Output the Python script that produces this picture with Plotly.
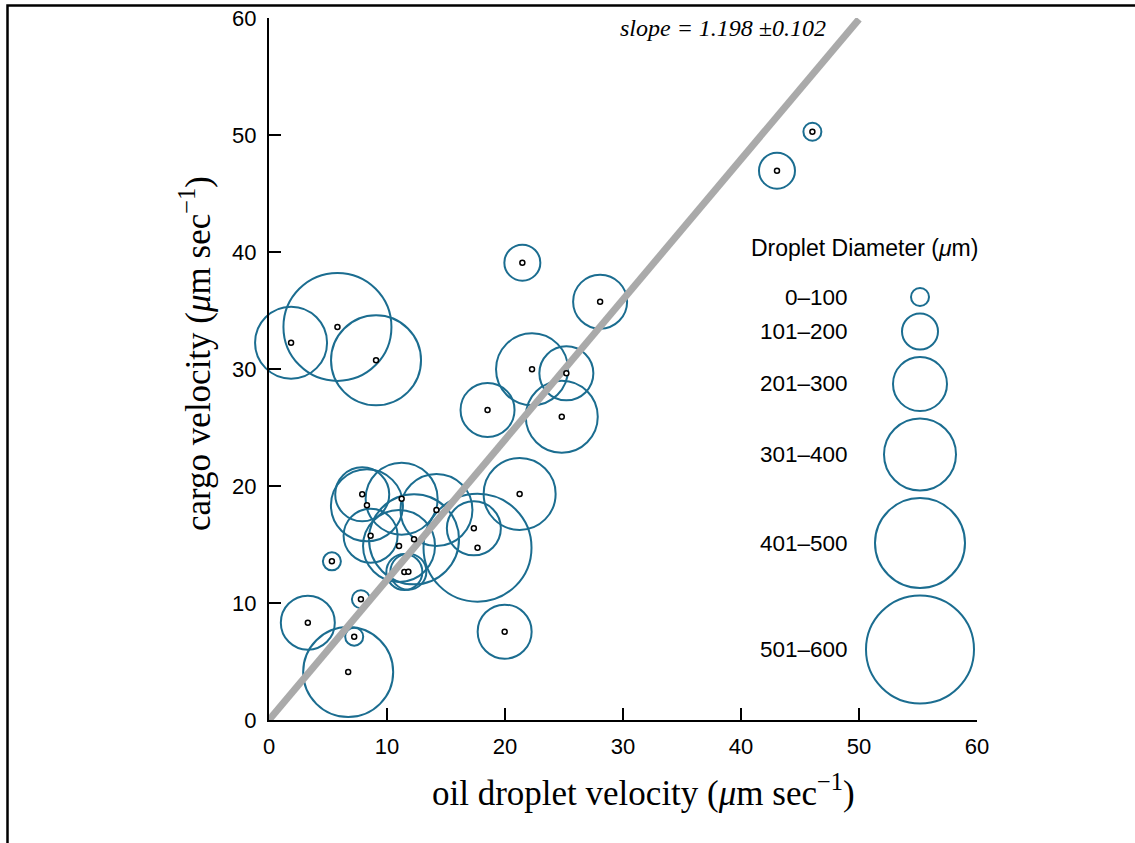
import plotly.graph_objects as go

# ---------------- data ----------------
oil_velocity = [1.87, 5.8, 9.07, 21.47, 18.52, 22.29, 28.06, 25.2, 24.81, 46.05, 43.05,
                7.9, 8.3, 11.24, 14.19, 8.61, 11.02, 12.29, 17.36, 17.67, 21.24,
                5.33, 11.47, 11.81, 7.79, 3.29, 7.22, 6.71, 19.97]
cargo_velocity = [32.25, 33.6, 30.74, 39.09, 26.5, 29.97, 35.75, 29.63, 25.92, 50.28, 46.95,
                  19.29, 18.35, 18.92, 17.95, 15.75, 14.87, 15.44, 16.38, 14.73, 19.32,
                  13.56, 12.65, 12.68, 10.32, 8.32, 7.12, 4.1, 7.55]
# droplet diameter class: 1 = 0-100, 2 = 101-200, ... 6 = 501-600
diameter_class = [4, 6, 5, 2, 3, 4, 3, 3, 4, 1, 2,
                  3, 4, 4, 4, 3, 4, 5, 3, 6, 4,
                  1, 2, 2, 1, 3, 1, 5, 3]
legend_labels = ["0\u2013100", "101\u2013200", "201\u2013300", "301\u2013400", "401\u2013500", "501\u2013600"]
legend_classes = [1, 2, 3, 4, 5, 6]
slope = 1.198
slope_err = 0.102
fit_x = [0, 50]
axis_ticks = [0, 10, 20, 30, 40, 50, 60]

# ---------------- layout constants ----------------
W, H = 1135, 843
L, R, T, B = 269, 158, 18, 123
PW, PH = W - L - R, H - T - B
XU, YU = PW / 60.0, PH / 60.0          # px per data unit
CLASS_PX = 18                          # marker diameter per class step
TEAL = "#1b6d90"
SANS = "Liberation Sans"
SERIF = "Liberation Serif"

sizes = [CLASS_PX * c for c in diameter_class]
leg_sizes = [CLASS_PX * c for c in legend_classes]

# legend key layout (stacked circles, fixed gap)
leg_x_px = 920
leg_top_px = 297
gap_px = 7.5
leg_y_px = [leg_top_px]
for i in range(1, len(leg_sizes)):
    leg_y_px.append(leg_y_px[-1] + leg_sizes[i - 1] / 2 + gap_px + leg_sizes[i] / 2)
leg_x = [(leg_x_px - L) / XU] * len(leg_sizes)
leg_y = [(H - B - py) / YU for py in leg_y_px]

fig = go.Figure()

# droplet circles
fig.add_trace(go.Scatter(
    x=oil_velocity, y=cargo_velocity, mode="markers",
    marker=dict(symbol="circle-open", size=sizes, color=TEAL, opacity=1, line=dict(width=2)),
    hoverinfo="skip", cliponaxis=False, showlegend=False))

# regression line
fig.add_trace(go.Scatter(
    x=fit_x, y=[slope * v for v in fit_x], mode="lines",
    line=dict(color="#aaaaaa", width=7), hoverinfo="skip", showlegend=False))

# center points
fig.add_trace(go.Scatter(
    x=oil_velocity, y=cargo_velocity, mode="markers",
    marker=dict(symbol="circle", size=5, color="white", opacity=1,
                line=dict(color="black", width=1.5)),
    hoverinfo="skip", cliponaxis=False, showlegend=False))

# legend key circles
fig.add_trace(go.Scatter(
    x=leg_x, y=leg_y, mode="markers",
    marker=dict(symbol="circle-open", size=leg_sizes, color=TEAL, opacity=1, line=dict(width=2)),
    hoverinfo="skip", cliponaxis=False, showlegend=False))

def px_to_paper_x(px):
    return (px - L) / PW

def px_to_paper_y(py):
    return (H - B - py) / PH

annotations = []
for lab, py in zip(legend_labels, leg_y_px):
    annotations.append(dict(x=px_to_paper_x(850), y=px_to_paper_y(py), xref="paper", yref="paper",
                            text=lab, showarrow=False, xanchor="right", yanchor="middle",
                            font=dict(family=SANS, size=22.5, color="black")))
annotations.append(dict(x=px_to_paper_x(864), y=px_to_paper_y(248), xref="paper", yref="paper",
                        text="Droplet Diameter (<i>\u03bc</i>m)", showarrow=False,
                        xanchor="center", yanchor="middle",
                        font=dict(family=SANS, size=23, color="black")))
annotations.append(dict(x=px_to_paper_x(828), y=px_to_paper_y(28), xref="paper", yref="paper",
                        text=f"<i>slope = {slope:.3f} \u00b1{slope_err:.3f}</i>", showarrow=False,
                        xanchor="right", yanchor="middle",
                        font=dict(family=SERIF, size=24, color="black")))
annotations.append(dict(x=px_to_paper_x(643), y=px_to_paper_y(790), xref="paper", yref="paper",
                        text="oil droplet velocity (<i>\u03bc</i>m sec<sup>\u22121</sup>)",
                        showarrow=False, xanchor="center", yanchor="middle",
                        font=dict(family=SERIF, size=35, color="black")))
annotations.append(dict(x=px_to_paper_x(195), y=px_to_paper_y(354), xref="paper", yref="paper",
                        text="cargo velocity (<i>\u03bc</i>m sec<sup>\u22121</sup>)",
                        showarrow=False, xanchor="center", yanchor="middle", textangle=-90,
                        font=dict(family=SERIF, size=35, color="black")))

axis_common = dict(range=[0, 60], tickvals=axis_ticks, ticks="inside", ticklen=12, tickwidth=2,
                   tickcolor="black", showline=True, linewidth=2, linecolor="black",
                   showgrid=False, zeroline=False, fixedrange=True, ticklabelstandoff=6,
                   tickfont=dict(family=SANS, size=22, color="black"))

fig.update_layout(
    width=W, height=H,
    margin=dict(l=L, r=R, t=T, b=B, autoexpand=False),
    paper_bgcolor="white", plot_bgcolor="white",
    xaxis=dict(**axis_common),
    yaxis=dict(**axis_common),
    annotations=annotations,
    shapes=[dict(type="path", xref="paper", yref="paper",
                 path=f"M {px_to_paper_x(7.5)},{px_to_paper_y(900)} L {px_to_paper_x(7.5)},{px_to_paper_y(5.5)} L {px_to_paper_x(1200)},{px_to_paper_y(5.5)}",
                 line=dict(color="black", width=2.5))],
)

fig.write_html("out.html", config={"displayModeBar": False},
               post_script="document.body.style.margin='0';document.body.style.overflow='hidden';")
